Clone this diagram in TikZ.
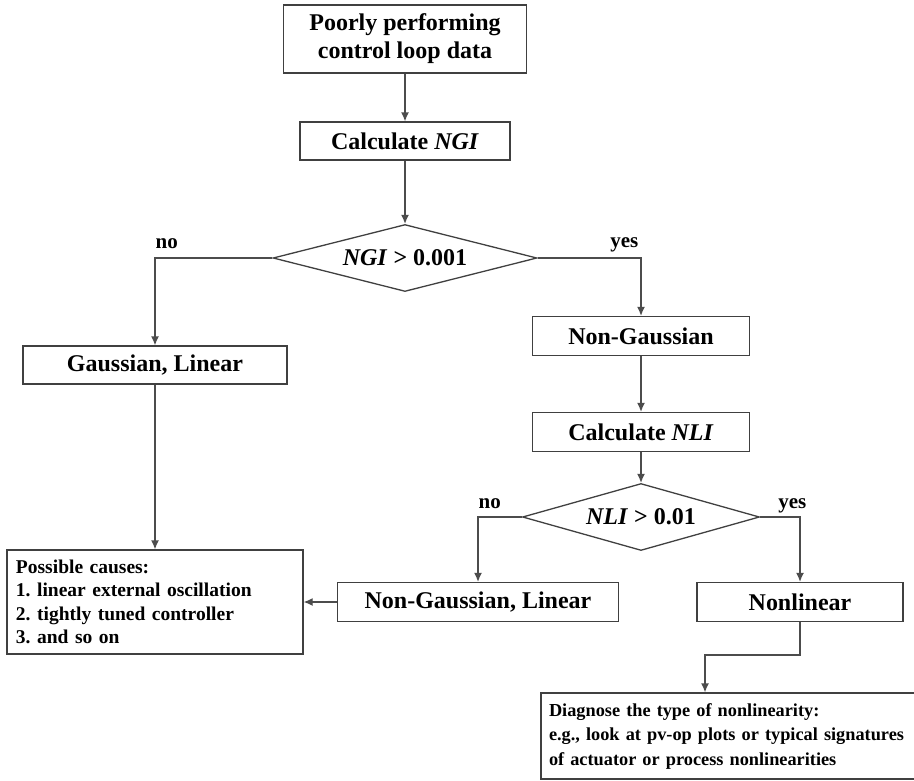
\documentclass[tikz,border=0pt]{standalone}
\usepackage{fontspec}
\setmainfont{Liberation Serif}
\usetikzlibrary{shapes.geometric,arrows.meta}
\begin{document}
\begin{tikzpicture}[x=1pt,y=-1pt, line width=1.3pt,
 box/.style={draw=black!75, inner sep=0pt, minimum height=38, align=center, font=\bfseries\fontsize{24}{28}\selectfont},
 dec/.style={draw=black!75, diamond, aspect=4, inner sep=0pt, minimum height=67, font=\bfseries\fontsize{24}{28}\selectfont},
 note/.style={draw=black!75, inner sep=0pt, align=left, font=\bfseries\frenchspacing\fontsize{19.5}{23.5}\selectfont},
 lbl/.style={inner sep=0pt, font=\bfseries\fontsize{21}{24}\selectfont},
 arr/.style={draw=black!70, -{Latex[length=9pt,width=8pt]}}]
\useasboundingbox (0,0) rectangle (914,780);
% main column
\node[box, minimum width=243, minimum height=68] (data) at (405,39) {Poorly performing\\control loop data};
\node[box, minimum width=210] (ngi) at (405,141) {Calculate \textit{NGI}};
\node[dec, minimum width=264] (dngi) at (405,258) {\textit{NGI} > 0.001};
% left branch
\node[box, minimum width=264] (gl) at (155,365) {Gaussian, Linear};
\node[note, minimum width=296, minimum height=104, text width=278] (causes) at (155,602)
 {Possible causes:\\1. linear external oscillation\\2. tightly tuned controller\\3. and so on};
% right branch
\node[box, minimum width=217, minimum height=39] (ng) at (641,336) {Non-Gaussian};
\node[box, minimum width=217, minimum height=39] (nli) at (641,432) {Calculate \textit{NLI}};
\node[dec, minimum width=237] (dnli) at (641,517) {\textit{NLI} > 0.01};
\node[box, minimum width=281, minimum height=39] (ngl) at (478,602) {Non-Gaussian, Linear};
\node[box, minimum width=206, minimum height=39] (nl) at (800,602) {Nonlinear};
\node[note, minimum width=389, minimum height=86, text width=373, font=\bfseries\frenchspacing\fontsize{18.3}{24.5}\selectfont] (diag) at (735.5,736)
 {Diagnose the type of nonlinearity:\\e.g., look at pv-op plots or typical signatures\\of actuator or process nonlinearities};
\coordinate (bend) at (705,655);
% connectors
\foreach \a/\b in {data/ngi, ngi/dngi, gl/causes, ng/nli, nli/dnli} \draw[arr] (\a.south) -- (\b.north);
\draw[arr] (ngl.west) -- (causes.east);
\draw[arr] (dngi.west) -| node[lbl, pos=.5, anchor=base west, yshift=10pt] {no} (gl.north);
\draw[arr] (dngi.east) -| node[lbl, pos=.5, anchor=base east, xshift=-2pt, yshift=11pt] {yes} (ng.north);
\draw[arr] (dnli.west) -| node[lbl, pos=.5, anchor=base west, yshift=9pt] {no} (ngl.north);
\draw[arr] (dnli.east) -| node[lbl, pos=.5, anchor=base east, xshift=7pt, yshift=9pt] {yes} (nl.north);
\draw[arr] (nl.south) |- (bend) -- (bend |- diag.north);
\end{tikzpicture}
\end{document}
